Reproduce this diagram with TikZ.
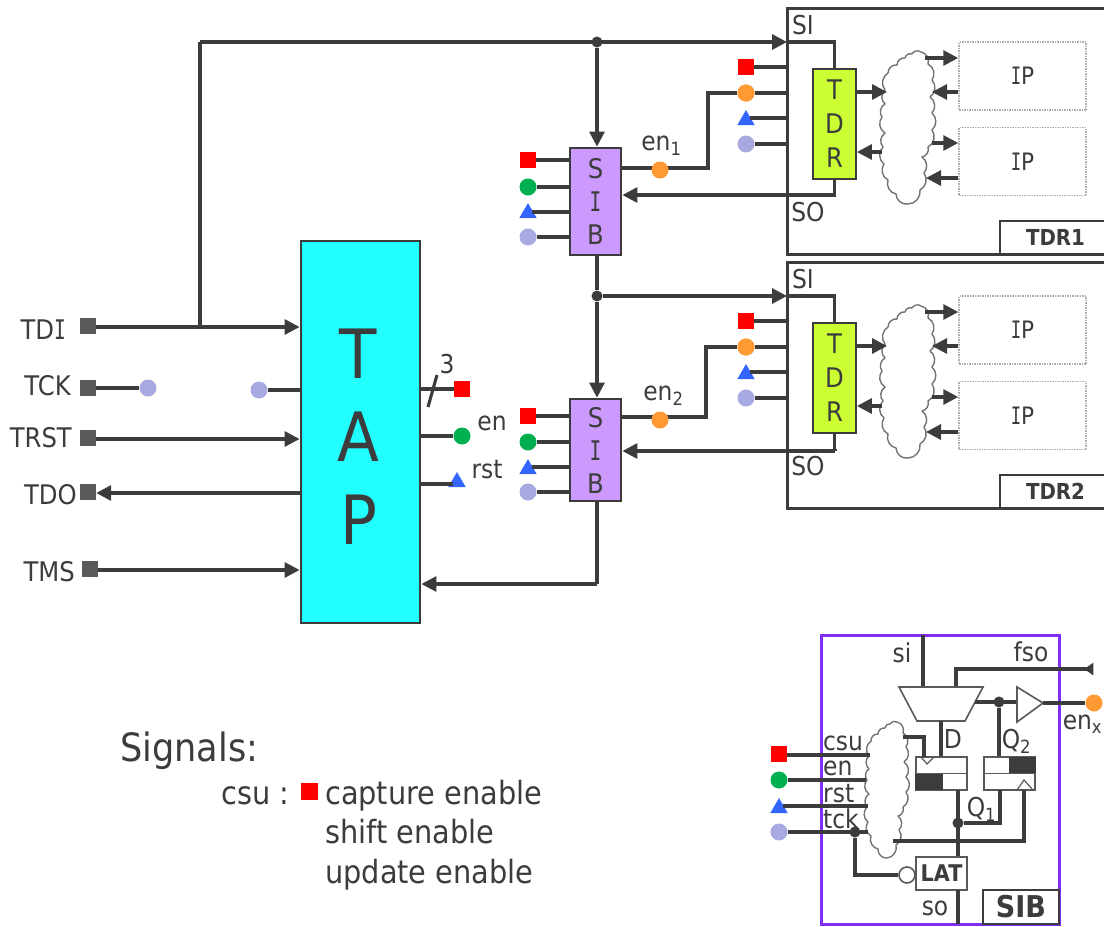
\documentclass[tikz,border=0pt]{standalone}
\usepackage{fontspec}
\setmainfont[FakeStretch=0.9]{DejaVu Sans}
\newfontfamily\Ifont[FakeStretch=0.72]{DejaVu Sans Mono}
\newcommand{\II}{{\Ifont I}}
\usetikzlibrary{arrows.meta,shapes.geometric,calc}
\definecolor{ln}{HTML}{3C3C3C}
\definecolor{sqg}{HTML}{595959}
\definecolor{mred}{HTML}{FF0000}
\definecolor{mgreen}{HTML}{00B050}
\definecolor{mblue}{HTML}{3366FF}
\definecolor{mperi}{HTML}{A9A9E2}
\definecolor{morange}{HTML}{FF9933}
\definecolor{tapc}{HTML}{22FFFF}
\definecolor{sibc}{HTML}{CC99FF}
\definecolor{tdrc}{HTML}{CCFF33}
\definecolor{violet}{HTML}{7F2FF5}
\newcommand{\fsz}[1]{\fontsize{#1}{#1}\selectfont}
\tikzset{
  wire/.style={draw=ln,line width=3.1pt},
  arr/.style={wire,-{Triangle[length=15pt,width=15pt]}},
  sqm/.style={rectangle,fill=#1,minimum size=16pt,inner sep=0pt},
  redm/.style={sqm=mred},
  pinm/.style={sqm=sqg},
  circm/.style={circle,fill=#1,minimum size=17pt,inner sep=0pt},
  trim/.style={regular polygon,regular polygon sides=3,fill=mblue,minimum size=20pt,inner sep=0pt},
  dotj/.style={circle,fill=ln,minimum size=11pt,inner sep=0pt},
  lab/.style={inner sep=0pt,text=ln,font=\fsz{26}},
  pinlab/.style={inner sep=0pt,text=ln,font=\fsz{27}},
  sibbox/.style={draw=ln,line width=2.8pt,fill=sibc,minimum width=51pt,text=ln,font=\fsz{27},align=center,inner sep=0pt},
  tdrbox/.style={draw=ln,line width=1.8pt,fill=tdrc,minimum width=43pt,minimum height=110pt,text=ln,font=\fsz{27},align=center,inner sep=0pt},
  ipbox/.style={draw=black!32,line width=1.5pt,densely dotted,fill=white,minimum width=127pt,minimum height=68pt,text=ln,font=\fsz{24}},
  cloudline/.style={draw=black!55,fill=white,line width=1.4pt,line join=round},
  ffbox/.style={draw=black!65,line width=1.6pt,fill=white,minimum width=51pt,minimum height=33pt,inner sep=0pt},
  body/.style={inner sep=0pt,anchor=base west,text=ln,font=\fsz{32}},
}
\newcommand{\cloudat}[3]{%
\begin{scope}[shift={(#1)}]
\draw[cloudline] (#2) \foreach \a/\b in {#3} { to[bend left=50] (\a,\b) };
\end{scope}}
\newcommand{\tdrblock}[3]{%
\begin{scope}[shift={(0,#2)},name prefix=#1-]
  \node[draw=ln,line width=3pt,fill=white,minimum width=330pt,minimum height=246pt,inner sep=0pt] (frame) at (952,131) {};
  \node[draw=ln,line width=2.2pt,fill=white,minimum width=110pt,minimum height=33pt,inner sep=0pt,font=\bfseries\fsz{22},text=ln] (tag) at (1055,237.5) {\raisebox{-3pt}{\kern1pt #3\kern0pt}};
  \coordinate (si) at (787,42);
  \coordinate (sopt) at (835,195);
  \node[lab] (silab) at (803,25) {SI};
  \node[lab] (solab) at (808,212) {SO};
  \node[tdrbox] (tdr) at (834.5,124) {T\\[7pt]D\\[7pt]R};
  \node[ipbox] (ipa) at (1022.5,76) {\II P};
  \node[ipbox] (ipb) at (1022.5,161.5) {\II P};
  \cloudat{908,128}{-3,-70}{4/-74,13/-76,20/-64,24/-48,22/-31,24/-15,24/2,20/19,14/29,16/45,12/62,0/76,-12/66,-20/52,-24/36,-25/19,-23/5,-26/-11,-23/-24,-23/-38,-20/-55,-11/-63,-3/-70}
  \node[redm] (mr) at (746,67) {};
  \node[circm=morange] (mo) at (746,93) {};
  \node[trim] (mt) at (746,120) {};
  \node[circm=mperi] (mp) at (746,144) {};
  \draw[wire] (mr) -- (mr -| frame.west);
  \draw[wire] (mo) -- (mo -| frame.west);
  \draw[wire] (mt.center) ++(4,-2) -- (frame.west |- 0,118);
  \draw[wire] (mp) -- (mp -| frame.west);
  \draw[wire] (si) -| (tdr.north);
  \draw[wire] (tdr.south) |- (sopt);
  \coordinate (ca) at (887,92);
  \coordinate (cb) at (882,152);
  \draw[arr] (tdr.east |- ca) -- (ca);
  \draw[arr] (cb) -- (tdr.east |- cb);
  \coordinate (a1) at (925,58);
  \coordinate (a2) at (932,92);
  \coordinate (a3) at (932,143);
  \coordinate (a4) at (926,178);
  \draw[arr] (a1) -- (ipa.west |- a1);
  \draw[arr] (ipa.west |- a2) -- (a2);
  \draw[arr] (a3) -- (ipb.west |- a3);
  \draw[arr] (ipb.west |- a4) -- (a4);
\end{scope}}
\begin{document}
\begin{tikzpicture}[x=1pt,y=-1pt]
\useasboundingbox[fill=white] (0,0) rectangle (1104,927);
% TDR blocks
\tdrblock{t1}{0}{TDR1}
\tdrblock{t2}{254}{TDR2}
% TAP
\node[draw=ln,line width=2.8pt,fill=tapc,minimum width=119pt,minimum height=382pt,inner sep=0pt] (tap) at (360.5,432) {};
\node[inner sep=0pt,text=ln,font=\fsz{68},align=center] (taptxt) at (358.5,437) {T\\[15pt]A\\[15pt]P};
% SIBs
\node[sibbox,minimum height=107pt] (sib1) at (595.5,201.5) {S\\[6pt]\II\\[6pt]B};
\node[sibbox,minimum height=102pt] (sib2) at (595.5,450) {S\\[6pt]\II\\[6pt]B};
% pins
\node[pinm] (tdi) at (88,326) {};
\node[pinm] (tck) at (88,388) {};
\node[pinm] (trst) at (88,438) {};
\node[pinm] (tdo) at (88,492) {};
\node[pinm] (tms) at (90,569) {};
\node[pinlab,anchor=east] (tdil) at (66,330) {TD\II};
\node[pinlab,anchor=east] (tckl) at (71,386) {TCK};
\node[pinlab,anchor=east] (trstl) at (72,438) {TRST};
\node[pinlab,anchor=east] (tdol) at (77,495) {TDO};
\node[pinlab,anchor=east] (tmsl) at (75,572) {TMS};
% top wires
\coordinate (tdij) at (200,327);
\coordinate (tdit) at (200,42);
\draw[arr] (tdi.east |- tdij) -- (tdij -| tap.west);
\draw[wire] (tdij) -- (tdit);
\draw[arr] (tdit) -- (t1-si);
\node[dotj] (j1) at (597,42) {};
\draw[arr] (j1) -- (j1 |- sib1.north);
\node[dotj] (j2) at (597,296) {};
\draw[wire] (j2 |- sib1.south) -- (j2);
\draw[arr] (j2) -- (t2-si);
\draw[arr] (j2) -- (j2 |- sib2.north);
\coordinate (ret) at (597,584);
\draw[wire] (ret |- sib2.south) -- (ret);
\draw[arr] (ret) -- (ret -| tap.east);
% tck
\node[circm=mperi] (tckc) at (148,388) {};
\node[circm=mperi] (tckd) at (259,390) {};
\draw[wire] (tck) -- (tckc);
\draw[wire] (tckd) -- (tckd -| tap.west);
\coordinate (trstc) at (88,439);
\coordinate (tdoc) at (88,493);
\coordinate (tmsc) at (90,570);
\draw[arr] (trst.east |- trstc) -- (trstc -| tap.west);
\draw[arr] (tdoc -| tap.west) -- (tdoc -| tdo.east);
\draw[arr] (tms.east |- tmsc) -- (tmsc -| tap.west);
% TAP outputs
\node[redm] (o1) at (462,389) {};
\node[circm=mgreen] (o2) at (462,436) {};
\node[trim] (o3) at (457,482) {};
\draw[wire] (o1 -| tap.east) -- (o1);
\draw[wire] (o2 -| tap.east) -- (o2);
\draw[wire] (tap.east |- 0,484) -- ($(o3 |- 0,484)+(-4,0)$);
\coordinate (sl1) at (428,407);
\coordinate (sl2) at (437,375);
\draw[wire] (sl1) -- (sl2);
\node[lab] (n3) at (447,364) {3};
\node[lab] (nen) at (492,423) {en};
\node[lab] (nrst) at (487,470) {rst};
% SIB1 inputs
\node[redm] (s1r) at (528,160) {};
\node[circm=mgreen] (s1g) at (528,187) {};
\node[trim] (s1t) at (528,213) {};
\node[circm=mperi] (s1p) at (528,237) {};
\draw[wire] (s1r) -- (s1r -| sib1.west);
\draw[wire] (s1g) -- (s1g -| sib1.west);
\draw[wire] (s1t.center) ++(4,-1) -- (sib1.west |- 0,212);
\draw[wire] (s1p) -- (s1p -| sib1.west);
% SIB2 inputs
\node[redm] (s2r) at (528,416) {};
\node[circm=mgreen] (s2g) at (528,442) {};
\node[trim] (s2t) at (528,469) {};
\node[circm=mperi] (s2p) at (528,492) {};
\draw[wire] (s2r) -- (s2r -| sib2.west);
\draw[wire] (s2g) -- (s2g -| sib2.west);
\draw[wire] (s2t.center) ++(4,-2) -- (sib2.west |- 0,467);
\draw[wire] (s2p) -- (s2p -| sib2.west);
% en links
\coordinate (e1) at (708,168);
\coordinate (e2) at (706,417);
\draw[wire] (sib1.east |- e1) -- (e1) |- (t1-mo);
\draw[wire] (sib2.east |- e2) -- (e2) |- (t2-mo);
\node[circm=morange] (e1c) at (660,170) {};
\node[circm=morange] (e2c) at (660,420) {};
\node[lab] (e1l) at (662,146) {en$_{\mathrm{1}}$};
\node[lab] (e2l) at (664,396) {en$_{\mathrm{2}}$};
\node[circm=morange] (t1mo) at (t1-mo) {};
\node[circm=morange] (t2mo) at (t2-mo) {};
% SO returns
\draw[arr] (t1-sopt) -- (t1-sopt -| sib1.east);
\draw[wire] (t2-sopt) -- +(0,2);
\draw[arr] (t2-sopt) ++(0,2) -- (sib2.east |- 0,451);
% Signals
\node[body,font=\fsz{39}] (sg) at (120,761) {Signals:};
\node[body] (csu) at (221,804) {csu :};
\node[rectangle,fill=mred,minimum size=17pt,inner sep=0pt] (csq) at (309,791) {};
\node[body] (sl1t) at (325,804) {capture enable};
\node[body] (sl2t) at (325,843) {shift enable};
\node[body] (sl3t) at (325,883) {update enable};
% SIB detail
\node[draw=violet,line width=3pt,fill=white,minimum width=238pt,minimum height=289pt,inner sep=0pt] (sd) at (940,779.5) {};
\node[draw=ln,line width=1.8pt,fill=white,minimum width=76pt,minimum height=34pt,inner sep=0pt,text=ln,font=\bfseries\fsz{30}] (sdtag) at (1021,907) {SIB};
\coordinate (m1) at (899,687); \coordinate (m2) at (983,687);
\coordinate (m3) at (965,721); \coordinate (m4) at (917,721);
\coordinate (msi) at (923,687); \coordinate (mfso) at (956,687);
\coordinate (mout) at (975,702); \coordinate (mbot) at (941,721);
\node[lab] (lsi) at (902,653) {si};
\node[lab] (lfso) at (1031,652) {fso};
\node[lab] (lD) at (953,739) {D};
\node[lab] (lQ2) at (1017,741) {Q$_{\mathrm{2}}$};
\node[lab] (lQ1) at (982,809) {Q$_{\mathrm{1}}$};
\node[lab] (lso) at (935,908) {so};
\node[lab] (lenx) at (1083,724) {en$_{\mathrm{x}}$};
\node[lab] (lcsu) at (843,743) {csu};
\node[lab,anchor=west] (len) at (823,768) {en};
\node[lab,anchor=west] (lrst) at (823,794) {rst};
\node[lab,anchor=west] (ltck) at (823,819) {tck};
\node[ffbox] (ff1) at (941.5,773.5) {};
\node[ffbox] (ff2) at (1009.5,773.5) {};
\node[ffbox,font=\bfseries\fsz{23},text=ln] (lat) at (941.5,873.5) {LAT};
\cloudat{887,790}{-2,-62}{3/-66,10/-68,16/-57,19/-43,17/-28,19/-13,19/2,16/17,11/26,12/40,9/55,0/68,-9/59,-16/46,-19/32,-20/17,-18/4,-20/-10,-18/-21,-18/-34,-16/-49,-9/-56,-2/-62}
\fill[ln] (ff1.west) rectangle (943,790);
\fill[ln] (1009,757) rectangle (ff2.east);
\draw[black!65,line width=1.4pt] (ff1.west) -- (ff1.east);
\draw[black!65,line width=1.4pt] (ff2.west) -- (ff2.east);
\draw[black!65,line width=1.2pt] (921,757) -- (927,764) -- (934,757);
\draw[black!65,line width=1.2pt] (1017,790) -- (1024,780) -- (1033,790);
\draw[wire] (923,635) -- (msi);
\draw[wire] (mfso) -- (956,669) -- (1087,669);
\node[isosceles triangle,isosceles triangle apex angle=70,fill=ln,minimum size=9pt,inner sep=0pt,shape border rotate=180] (fsoarr) at (1090,669) {};
\draw[draw=black!65,line width=1.6pt,fill=white] (m1) -- (m2) -- (m3) -- (m4) -- cycle;
\draw[wire] (mbot) -- (mbot |- ff1.north);
\coordinate (bufa) at (1017,687); \coordinate (bufb) at (1017,722); \coordinate (bufc) at (1043,703);
\draw[wire] (mout) -- (1017,702);
\draw[draw=black!65,line width=1.6pt,fill=white] (bufa) -- (bufc) -- (bufb) -- cycle;
\node[circm=morange] (enxc) at (1094,703) {};
\draw[wire] (bufc) -- (enxc);
\node[dotj] (dj1) at (999,702) {};
\draw[wire] (dj1) -- (dj1 |- ff2.north);
\coordinate (ffo) at (958,790);
\draw[wire] (ffo) -- (ffo |- lat.north);
\node[dotj] (dj2) at (958,823) {};
\draw[wire] (dj2) -| (1000,790);
\draw[wire] (903,737) -| (924,757);
\draw[wire] (893,841) -| (1024,790);
\node[redm] (dr) at (779,754) {};
\node[circm=mgreen] (dg) at (779,780) {};
\node[trim] (dt) at (779,808) {};
\node[circm=mperi] (dp) at (779,832) {};
\draw[wire] (dr.east) ++(0,1) -- (870,755);
\draw[wire] (dg) -- (866,780);
\draw[wire] (dt.center) ++(4,-2) -- (868,806);
\draw[wire] (dp) -- (868,832);
\node[dotj] (dj3) at (855,832) {};
\node[circle,draw=black!65,line width=1.6pt,fill=white,minimum size=16pt,inner sep=0pt] (inv) at (907,875) {};
\draw[wire] (dj3) |- (inv);
\draw[wire] (958,890) -- (958,924);
\end{tikzpicture}
\end{document}
